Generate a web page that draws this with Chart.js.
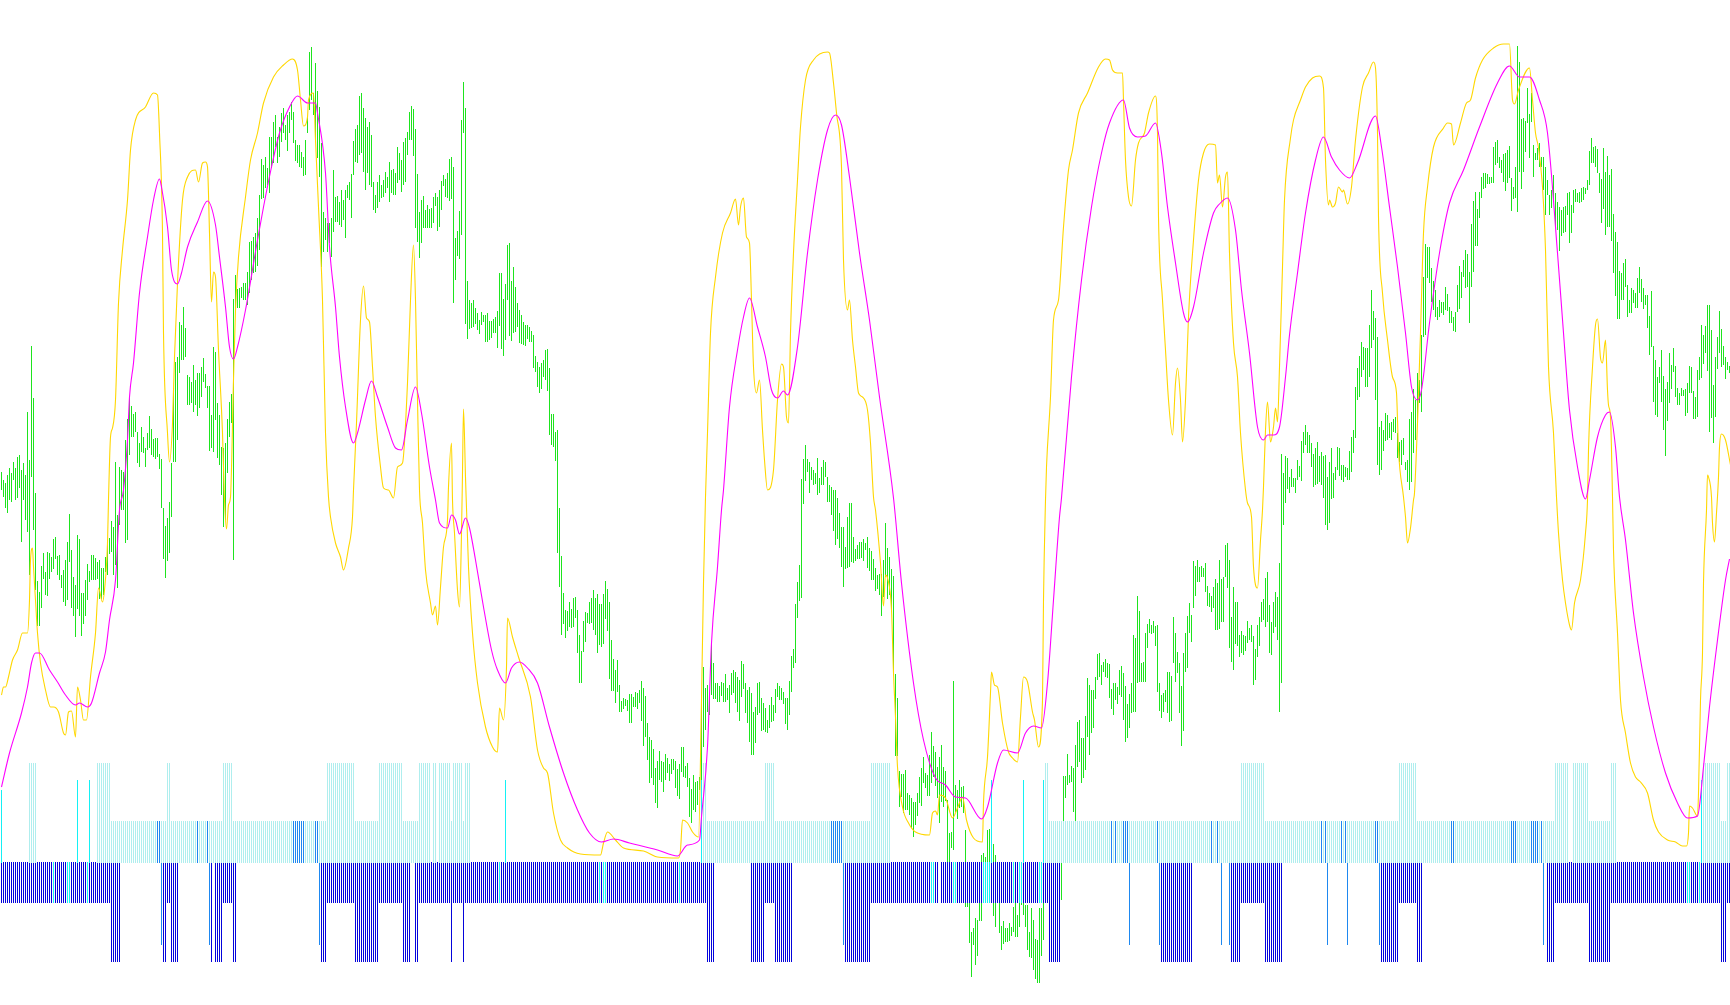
<!DOCTYPE html>
<html>
<head>
<meta charset="utf-8">
<title>Chart</title>
<script src="https://cdn.jsdelivr.net/npm/chart.js@4"></script>
<style>
html, body { margin: 0; padding: 0; background: #ffffff; overflow: hidden; }
canvas { display: block; }
</style>
</head>
<body>
<canvas id="chart" width="1730" height="1005"></canvas>
<script>
/* ==============================
   DATA
============================== */
// top and bottom of each green bar, one entry per bar
var greenHigh = [
528,520,517,525,532,527,538,532,543,545,
530,537,525,588,540,654,602,507,419,408,
434,447,428,448,447,443,461,463,444,445,
425,430,440,458,486,450,423,415,465,461,
407,407,420,436,429,445,445,442,438,440,
432,432,443,457,462,479,473,538,485,533,
530,528,560,581,604,594,586,588,568,557,
573,563,552,567,584,571,561,562,562,546,
541,492,474,482,498,537,612,638,643,678,
675,693,672,625,623,618,635,620,627,627,
633,642,626,614,614,585,653,648,597,585,
553,552,557,581,598,606,701,725,711,712,
713,717,717,728,758,759,763,767,782,805,
841,835,843,832,863,863,878,885,863,873,
887,892,875,885,888,898,888,860,855,855,
848,843,860,883,948,953,907,937,909,893,
857,788,782,777,777,782,830,803,804,798,
810,800,810,815,818,826,859,871,875,904,
907,892,882,873,878,865,818,805,818,825,
815,820,828,823,838,830,831,827,853,847,
840,858,862,868,888,894,891,871,826,788,
800,804,790,795,791,792,803,807,803,810,
819,825,821,827,841,843,833,762,769,789,
880,918,892,719,700,697,700,692,687,680,
688,685,685,687,679,679,681,683,689,727,
727,701,716,755,757,719,733,713,697,690,
685,678,675,675,673,669,665,644,638,633,
637,640,650,651,632,586,586,568,570,492,
444,407,390,389,398,391,402,403,390,365,
349,379,388,387,398,402,410,402,406,396,
396,406,419,411,398,360,341,330,340,315,
299,302,301,300,306,306,303,308,307,310,
319,312,304,277,263,260,251,232,239,249,
239,238,246,242,236,241,241,239,231,236,
253,253,234,237,222,211,225,218,219,223,
298,333,312,315,306,357,337,317,317,314,
318,317,326,312,315,327,330,328,323,320,
339,336,317,310,313,307,288,293,317,318,
302,297,292,280,295,303,295,311,317,314,
312,308,302,302,319,344,351,396,418,435,
521,541,555,541,538,533,530,527,542,522,
533,540,538,523,515,513,510,510,502,487,
473,473,453,483,497,497,463,451,455,458,
458,461,457,463,452,449,441,432,425,426,
426,440,477,452,443,431,424,326,302,229,
226,226,230,207,205,202,198,198,207,223,
232,243,227,225,245,268,254,248,233,243,
255,233,229,200,167,168,319,215,210,220,
213,214,170,137,97,68,72,82,80,97,
145,147,143,170,171,150,156,145,130,97,
74,79,72,72,77,73,93,97,85,97,
110,97,95,95,68,92,80,61,60,92,
92,97,130,130,135,135,132,130,135,135,
138,224,224,246,225,234,232,255,278,280,
262,262,284,322,315,310,310,323,346,347,
335,338,341,337,336,311,317,317,313,330,
334,327,314,296,306,317,365,362,404,389,
337,338,367,376,381,375,379,374,375,317,
305,307,310,328,328,324,383,367,348,337,
314,347,367,384,397,385,439,434,440,433,
434,432,437,414,407,404,413,421,417,440,
421,423,455,457,440,383,413,398,398,365,
369,365,364,379,372,375,364,351,375,383,
398,401,422,428,395,378,398,408,403,437,
546,527,544,542,523,
531,522,522,540,534,559,568,575,568,565,
557,546,552,558,544,548,544,545,523,538,
552,527,533,553,552,535,535,533,532,549,
563,570,613,632,644,658,653,652,652,675,
710,689,682,663,573,579,570,587,585,577,
578,581,583,567,558,560,562,538,540,581,
588,611,600,627,620,665,723,756,753,753,
732,719,710,693,700,698,698,713,706,693,
689,683,688,715,734,728,740,750,746,728,
776,799,808,791,808,823,827,827,826,823,
823,853,858,860,843,840,846,847,850,854,
822,813,833,954,938,881,882,879,912,886,
907,855,847,852,857,843,843,833,820,805,
810,825,807,798,793,790,793,794,807,808,
795,810,811,807,808,812,813,812,820,849,
862,853,854,851,827,821,852,828,844,825,
831,786,768,758,729,727,737,741,715,700,
712,710,707,722,733,721,712,705,705,684,
709,654,640,623,633,650,624,611,618,647,
635,652,634,612,607,612,610,611,617,634,
633,609,603,630,643,675,665,674,695,695,
670,615,643,663,689,671,654,643,638,634
];
var greenLow = [
510,503,492,487,500,498,520,500,502,512,
458,500,480,468,425,523,470,410,374,374,
392,421,405,404,421,428,431,441,425,420,
412,398,394,400,438,392,384,363,391,384,
364,376,384,400,418,420,420,420,421,401,
401,405,428,425,446,448,425,435,412,475,
490,490,457,460,545,563,563,568,537,533,
548,547,533,550,552,545,543,541,543,531,
492,441,422,439,447,483,538,538,560,627,
640,640,643,595,595,597,588,595,584,592,
603,618,612,592,549,552,548,580,542,535,
505,473,480,527,563,577,440,688,692,692,
702,700,700,695,707,720,727,728,734,750,
801,802,812,815,807,832,837,853,837,843,
858,867,860,849,867,880,857,839,837,833,
832,824,825,867,890,900,885,858,842,823,
733,748,760,748,757,743,768,778,778,775,
773,780,762,802,800,782,825,838,837,845,
847,828,810,827,815,813,790,787,792,798,
802,803,807,812,798,807,805,805,817,820,
808,815,818,845,860,860,844,772,758,742,
757,772,772,772,772,772,777,794,769,773,
790,814,803,802,799,801,697,720,744,741,
765,867,676,661,671,672,673,676,670,666,
675,678,658,658,660,662,667,667,652,674,
651,644,660,700,664,659,667,668,673,657,
656,655,654,661,658,658,632,628,613,607,
611,623,620,609,565,555,553,539,447,413,
365,376,362,369,373,372,373,382,347,317,
317,348,358,377,376,377,370,365,347,355,
353,356,381,369,321,309,309,297,308,288,
288,291,294,289,277,277,293,293,291,297,
279,254,263,240,217,222,215,197,192,220,
218,208,220,227,219,226,230,212,204,201,
228,223,222,213,183,177,190,188,195,210,
218,253,270,288,285,305,301,301,298,298,
304,298,298,300,287,305,307,297,288,279,
303,311,287,277,258,245,245,257,285,287,
269,270,268,267,272,278,279,287,303,300,
300,296,276,270,285,308,332,337,382,399,
402,496,519,528,507,520,515,516,505,507,
515,515,523,498,498,485,469,455,461,452,
433,413,431,432,433,438,437,439,441,441,
442,439,450,432,429,420,420,409,411,405,
384,403,423,401,405,390,326,244,244,193,
203,187,190,190,185,172,163,175,184,197,
194,217,212,204,204,217,223,214,202,177,
198,193,199,138,138,152,150,188,181,192,
193,187,93,93,57,23,55,35,44,79,
79,97,97,97,97,97,84,73,97,67,
50,56,58,58,59,64,68,63,63,73,
95,85,73,50,43,42,30,21,17,17,
44,60,100,100,100,100,100,100,100,100,
100,179,202,215,217,218,188,179,233,238,
217,222,230,263,245,267,272,301,320,323,
315,328,323,322,302,291,285,300,296,305,
303,280,258,262,272,287,288,288,317,318,
318,318,318,352,367,366,367,354,308,289,
282,288,298,287,278,279,337,318,327,287,
254,269,328,332,367,358,392,404,418,418,
423,423,408,394,393,388,392,370,370,371,
378,378,423,412,352,338,330,356,354,343,
347,345,349,357,360,358,315,320,343,354,
378,380,373,378,347,345,367,373,360,288,
317,475,497,511,507,
513,513,507,520,523,519,547,555,547,547,
533,513,515,516,518,515,502,475,470,477,
501,502,520,530,524,520,518,523,520,520,
528,547,562,600,603,623,630,613,613,623,
652,660,600,535,525,530,549,559,560,562,
560,568,567,542,538,535,545,530,518,510,
518,547,560,580,597,588,663,665,722,717,
698,690,683,680,683,687,685,690,689,677,
677,669,668,688,691,702,723,712,713,677,
713,728,754,754,782,802,811,812,816,816,
817,817,835,837,832,827,818,809,817,822,
789,801,802,788,828,811,828,848,877,842,
878,823,840,840,833,833,810,785,805,785,
792,798,772,770,749,764,767,768,785,757,
767,787,798,798,797,798,800,806,810,815,
837,837,833,827,807,777,791,765,773,773,
759,727,704,681,681,700,700,713,683,687,
687,697,692,692,707,698,691,695,672,645,
653,598,585,583,617,598,570,544,579,597,
611,628,603,595,595,604,604,584,587,607,
607,581,581,583,620,622,636,647,629,568,
582,557,583,631,647,633,635,621,630,627
];
// [bar, value] along the magenta curve
var magentaPoints = [
[0,213],[4,247],[10,287],[13,313],[15,337],[17,347],[19,347],[24,330],[28,318],[32,305],[37,295],[39,297],[43,293],[45,297],[49,327],[52,348],[54,380],[57,420],[59,490],[61,510],[63,560],[64,603],[66,637],[69,707],[73,763],[76,800],[79,821],[80,813],[83,773],[85,730],[88,716],[90,727],[93,753],[98,778],[103,799],[107,775],[109,743],[112,693],[114,653],[116,641],[118,653],[122,690],[128,760],[131,793],[135,833],[139,867],[144,893],[148,904],[153,897],[157,897],[158,887],[162,827],[164,753],[167,693],[169,643],[172,593],[176,557],[178,567],[182,600],[185,619],[188,603],[193,573],[197,552],[200,550],[203,580],[207,613],[210,587],[214,533],[217,500],[219,477],[223,472],[225,485],[227,480],[229,466],[232,482],[234,472],[237,440],[241,393],[245,350],[248,330],[252,317],[255,332],[259,338],[263,332],[268,317],[274,273],[281,227],[288,190],[294,167],[300,158],[306,161],[314,157],[328,150],[338,144],[343,155],[349,160],[350,183],[353,253],[355,357],[358,433],[360,490],[361,510],[364,593],[368,650],[371,683],[374,702],[378,673],[382,643],[385,610],[388,602],[391,609],[393,605],[398,653],[403,747],[408,820],[413,870],[417,885],[420,875],[424,823],[429,747],[434,680],[439,603],[446,502],[450,417],[456,317],[461,260],[467,222],[472,215],[477,203],[482,202],[490,181],[493,193],[498,237],[501,250],[508,247],[512,267],[516,274],[520,272],[523,317],[526,400],[529,483],[530,502],[535,623],[540,720],[545,793],[550,847],[554,877],[561,900],[564,872],[568,863],[572,864],[577,877],[580,847],[583,793],[587,737],[591,687],[593,678],[596,693],[601,747],[606,787],[609,796],[613,802],[617,770],[620,710],[624,647],[628,573],[631,560],[633,565],[636,565],[639,573],[642,623],[644,665],[648,727],[652,787],[657,840],[661,863],[665,843],[669,830],[674,822],[678,837],[687,884],[690,853],[694,793],[698,733],[702,667],[705,613],[708,600],[710,610],[714,677],[719,747],[724,797],[731,830],[739,873],[748,917],[754,934],[759,923],[764,923],[769,900],[773,867],[778,747],[781,667],[784,590],[788,533],[792,501],[794,520],[798,563],[802,585],[804,588],[807,553],[809,503],[812,460],[816,387],[821,323],[826,273],[832,227],[838,197],[843,182],[848,184],[851,233],[854,293],[858,360],[862,420],[864,441]
];
// [bar, value] along the yellow curve
var yellowPoints = [
[0,305],[1,313],[2,313],[3.5,323],[5.5,340],[8,350],[10.5,367],[13,367],[14,400],[14.5,440],[15.5,452],[16,433],[17,400],[18,367],[19.5,337],[22,310],[24.5,293],[26,293],[28.5,288],[31,267],[32,265],[33.5,288],[35,289],[37,263],[38,313],[39.5,300],[41,280],[42.5,280],[44.5,323],[47,367],[48.5,412],[50.5,398],[51.5,410],[53,457],[53.5,500],[54.5,563],[55.5,572],[57,600],[58.5,697],[60.5,750],[63,800],[64.5,850],[67,880],[72,893],[76,907],[78,905],[79,867],[80.5,767],[81,667],[83,567],[84,538],[85.5,577],[86.5,643],[88,717],[90.5,800],[93,823],[97,830],[98.5,818],[100.5,837],[102,838],[103,833],[104,767],[105,698],[106,728],[107,723],[108.5,650],[110.5,567],[111.5,500],[112.5,471],[113.5,495],[114.5,503],[116,620],[117,690],[118.5,743],[122,803],[124.5,840],[128,867],[131,897],[136,923],[141,935],[145.5,941],[148,930],[149.5,900],[151,874],[153,883],[153.5,900],[156,907],[157,860],[158.5,793],[160.5,700],[162,567],[163.5,503],[164.5,483],[167,457],[169.5,443],[171,430],[173.5,452],[175.5,483],[176,510],[177.5,577],[179.5,680],[181,714],[182.5,682],[184,678],[185.5,633],[187,583],[189.5,533],[191,512],[193.5,510],[196,502],[198,533],[200.5,537],[203,617],[204.5,700],[206,755],[207,700],[208,600],[209,510],[210.5,477],[212,430],[214.5,397],[215.5,385],[217,394],[218,375],[219.5,413],[221,453],[223,480],[223.5,513],[225,557],[225.5,500],[226.5,467],[228,410],[229,393],[230,467],[230.5,527],[231,591],[232,523],[233.5,433],[235.5,367],[238,317],[242,273],[245.5,253],[248,248],[249,292],[251,280],[252.5,333],[253,382],[255.5,363],[258.5,343],[264.5,303],[268,250],[271,232],[273,227],[276,187],[279.5,160],[283,152],[289.5,146],[299.5,145],[301,157],[303,168],[307,160],[311,152],[321,149],[328,143],[338.5,142],[339.5,150],[340.5,180],[343,177],[345.5,168],[348.5,163],[350,300],[351,417],[352,503],[353,567],[354.5,667],[357,723],[360.5,767],[364.5,787],[367,801],[368.5,775],[369.5,793],[371,802],[372.5,763],[374,757],[375,700],[376,633],[377.5,607],[379,620],[380.5,570],[381.5,540],[383,510],[386,530],[388,600],[390,636],[391,633],[392.5,583],[393.5,577],[394.5,667],[396,747],[398,820],[399.5,873],[402,920],[406,940],[413,948],[414,947],[416,917],[417.5,887],[420,833],[421,740],[423,690],[424,700],[425.5,660],[427,633],[428.5,607],[430.5,603],[433,590],[434.5,557],[436,503],[437,490],[439.5,437],[441,394],[442,425],[443,422],[445,390],[446,327],[447,283],[448,233],[450.5,193],[453.5,177],[457,168],[464,165],[465.5,187],[467,189],[468,185],[469,205],[472,202],[475.5,182],[478,192],[480.5,203],[482.5,180],[486,162],[490.5,158],[491,197],[493,243],[494.5,307],[495,328],[496.5,315],[498,313],[500.5,277],[503.5,248],[505.5,242],[508,238],[509.5,283],[511,323],[513,318],[515.5,288],[516.5,280],[518.5,253],[520.5,300],[521,400],[522,500],[522.5,533],[524.5,603],[526,680],[528.5,700],[531,773],[533.5,830],[535.5,850],[538.5,887],[543,907],[548.5,933],[552,941],[554,940],[555.5,930],[558,927],[560.5,927],[561,900],[562,840],[563.5,803],[565,794],[567,840],[568.5,857],[571.5,867],[573.5,887],[577,904],[578,867],[578.5,783],[580.5,700],[582,650],[583.5,600],[585.5,565],[587,617],[588,632],[589.5,600],[590.5,558],[592,600],[593.5,683],[596,760],[598.5,820],[601,847],[604,856],[607,855],[608,817],[609,825],[610.5,793],[612,823],[613,828],[614,747],[616,657],[618,623],[619.5,567],[622,510],[623,497],[625,483],[626,433],[628,412],[629.5,460],[630.5,490],[631,513],[632,570],[633,598],[634.5,558],[636,573],[637,592],[638,578],[639,633],[640.5,733],[641.5,800],[644.5,862],[646,880],[649.5,900],[652,913],[655.5,922],[659,924],[661,912],[662,840],[663.5,795],[664,800],[665.5,793],[667,797],[668.5,813],[670.5,808],[671,810],[673,796],[675,813],[677,860],[680.5,913],[683.5,927],[686,938],[687,932],[688,867],[688.5,783],[690.5,707],[693,660],[695.5,623],[697.5,607],[698.5,550],[701,503],[702,483],[703,457],[704.5,472],[706,500],[706.5,507],[708,577],[709.5,667],[711,767],[713,813],[716,853],[721,872],[723,877],[725,876],[726,855],[729.5,877],[732.5,897],[734.5,900],[737,922],[740.5,940],[746,952],[751,956],[754,956],[755.5,900],[756.5,896],[758.5,910],[764,932],[765.5,900],[767,867],[768.5,852],[770.5,813],[772,750],[773.5,633],[776,567],[777.5,503],[778.5,467],[780.5,420],[782,397],[784,375],[785,370],[786.5,397],[789.5,420],[792,467],[793,500],[793.5,550],[795.5,633],[797,675],[798,681],[799.5,642],[800.5,637],[802,660],[803,610],[803.5,595],[804.5,583],[805.5,503],[806,450],[808,367],[809.5,300],[812,267],[814.5,237],[817,223],[819.5,218],[823,207],[826,180],[828.5,168],[833,160],[837,158],[840.5,154],[842.5,154],[843.5,167],[844,194],[845.5,192],[848,184],[848.5,207],[849.5,300],[850.5,347],[851,417],[852.5,490],[853,525],[853.5,523],[855,503],[855.5,477],[856.5,458],[857.5,487],[858.5,523],[859,553],[860,566],[862,560],[864.5,535]
];
// histogram levels
var upperBase = 137;
var upperLevels = { first: 210, tall: 237, mid: 179, blue: 179, cyan: 220 };
var lowerBase = 138;
var lowerLevels = { one: 97, two: 38, blue: 55, cyan: 97 };
// [first bar, last bar, kind]
var upperRuns = [
[0,0,"first"],[14,17,"tall"],[38,38,"cyan"],[44,44,"cyan"],[48,54,"tall"],[55,77,"mid"],[78,79,"blue"],[80,82,"mid"],[83,84,"tall"],[85,97,"mid"],[98,98,"blue"],[99,102,"mid"],[103,103,"blue"],[104,110,"mid"],[111,115,"tall"],[116,145,"mid"],[146,151,"blue"],[152,156,"mid"],[157,158,"blue"],[159,162,"mid"],[163,176,"tall"],[177,188,"mid"],[189,200,"tall"],[201,208,"mid"],[209,214,"tall"],[216,217,"tall"],[219,224,"tall"],[225,225,"mid"],[226,230,"tall"],[231,231,"mid"],[232,234,"tall"],[252,252,"cyan"],[350,350,"cyan"],[351,352,"tall"],[353,381,"mid"],[382,386,"tall"],[387,414,"mid"],[415,420,"blue"],[421,434,"mid"],[435,444,"tall"],[495,495,"cyan"],[511,511,"cyan"],[521,521,"cyan"],[522,523,"tall"],[524,554,"mid"],[555,555,"blue"],[556,556,"mid"],[557,557,"blue"],[558,560,"mid"],[561,563,"blue"],[564,577,"mid"],[578,578,"blue"],[579,604,"mid"],[605,605,"blue"],[606,607,"mid"],[608,608,"blue"],[609,619,"mid"],[620,631,"tall"],[632,659,"mid"],[660,660,"blue"],[661,661,"mid"],[662,662,"blue"],[663,669,"mid"],[670,670,"blue"],[671,671,"mid"],[672,672,"blue"],[673,686,"mid"],[687,688,"blue"],[689,698,"mid"],[699,707,"tall"],[708,724,"mid"],[725,726,"blue"],[727,754,"mid"],[755,757,"blue"],[758,764,"mid"],[765,768,"blue"],[769,769,"mid"],[770,770,"blue"],[771,776,"mid"],[777,783,"tall"],[786,793,"tall"],[794,804,"mid"],[805,807,"tall"],[850,850,"cyan"],[851,859,"tall"],[860,862,"mid"],[863,864,"tall"]
];
var lowerRuns = [
[0,25,"one"],[26,26,"cyan"],[27,32,"one"],[33,34,"cyan"],[35,42,"one"],[43,43,"cyan"],[44,54,"one"],[55,59,"two"],[80,80,"blue"],[81,82,"two"],[83,84,"one"],[85,88,"two"],[104,104,"blue"],[105,105,"two"],[107,110,"two"],[111,115,"one"],[116,117,"two"],[159,159,"blue"],[160,162,"two"],[163,176,"one"],[177,188,"two"],[189,200,"one"],[201,204,"two"],[207,208,"two"],[209,224,"one"],[225,225,"two"],[226,230,"one"],[231,231,"two"],[232,248,"one"],[249,249,"cyan"],[250,298,"one"],[299,299,"cyan"],[300,300,"one"],[301,302,"cyan"],[303,338,"one"],[339,339,"cyan"],[340,352,"one"],[353,356,"two"],[375,381,"two"],[382,386,"one"],[387,395,"two"],[421,421,"blue"],[422,434,"two"],[435,464,"one"],[465,466,"cyan"],[467,468,"one"],[470,475,"one"],[476,477,"cyan"],[478,490,"one"],[491,494,"cyan"],[495,505,"one"],[506,506,"cyan"],[507,508,"one"],[509,510,"cyan"],[511,518,"one"],[519,520,"cyan"],[521,523,"one"],[524,529,"two"],[564,564,"blue"],[579,579,"blue"],[580,595,"two"],[610,610,"blue"],[614,614,"blue"],[615,619,"two"],[620,631,"one"],[632,640,"two"],[663,663,"blue"],[673,673,"blue"],[689,689,"blue"],[690,698,"two"],[699,707,"one"],[708,710,"two"],[771,771,"blue"],[773,776,"two"],[777,793,"one"],[794,804,"two"],[805,842,"one"],[843,844,"cyan"],[845,848,"one"],[849,849,"cyan"],[850,859,"one"],[860,862,"two"],[863,864,"one"]
];

/* ==============================
   STYLE
============================== */
var PALE = "#afeeee";
var MIDBLUE = "#1e88f0";
var CYAN = "#14f0f4";
var DARK = "#0404dc";
var upperColours = { first: CYAN, tall: PALE, mid: PALE, blue: MIDBLUE, cyan: CYAN };
var lowerColours = { one: DARK, two: DARK, blue: MIDBLUE, cyan: CYAN };

/* ==============================
   BUILD
============================== */
function toPoints(list) {
    return list.map(function (p) { return { x: p[0], y: p[1] }; });
}
function runsToBars(runs, base, levels, colours) {
    var data = [];
    var colors = [];
    runs.forEach(function (r) {
        for (var i = r[0]; i <= r[1]; i++) {
            data.push({ x: i, y: [base, levels[r[2]]] });
            colors.push(colours[r[2]]);
        }
    });
    return { data: data, colors: colors };
}
function barSet(data, color, order) {
    return {
        type: "bar",
        data: data,
        backgroundColor: color,
        barThickness: 1,
        borderWidth: 0,
        inflateAmount: 0,
        grouped: false,
        order: order
    };
}
function lineSet(data, color, order) {
    return {
        type: "line",
        data: toPoints(data),
        borderColor: color,
        borderWidth: 1.1,
        pointRadius: 0,
        cubicInterpolationMode: "monotone",
        fill: false,
        order: order
    };
}

var greenBars = greenHigh.map(function (h, i) { return { x: i, y: [greenLow[i], h] }; });
var upper = runsToBars(upperRuns, upperBase, upperLevels, upperColours);
var lower = runsToBars(lowerRuns, lowerBase, lowerLevels, lowerColours);

new Chart(document.getElementById("chart"), {
    type: "bar",
    data: {
        datasets: [
            lineSet(magentaPoints, "#ff00ff", 0),
            lineSet(yellowPoints, "#ffd700", 1),
            barSet(upper.data, upper.colors, 2),
            barSet(lower.data, lower.colors, 3),
            barSet(greenBars, "#1ee41e", 4)
        ]
    },
    options: {
        responsive: false,
        animation: false,
        devicePixelRatio: 1,
        layout: { padding: 0 },
        plugins: { legend: { display: false }, tooltip: { enabled: false } },
        scales: {
            x: { type: "linear", display: false, offset: false, min: -0.75, max: 864.25, grid: { display: false } },
            y: { type: "linear", display: false, min: -5, max: 1000, grid: { display: false } }
        }
    }
});
</script>
</body>
</html>
